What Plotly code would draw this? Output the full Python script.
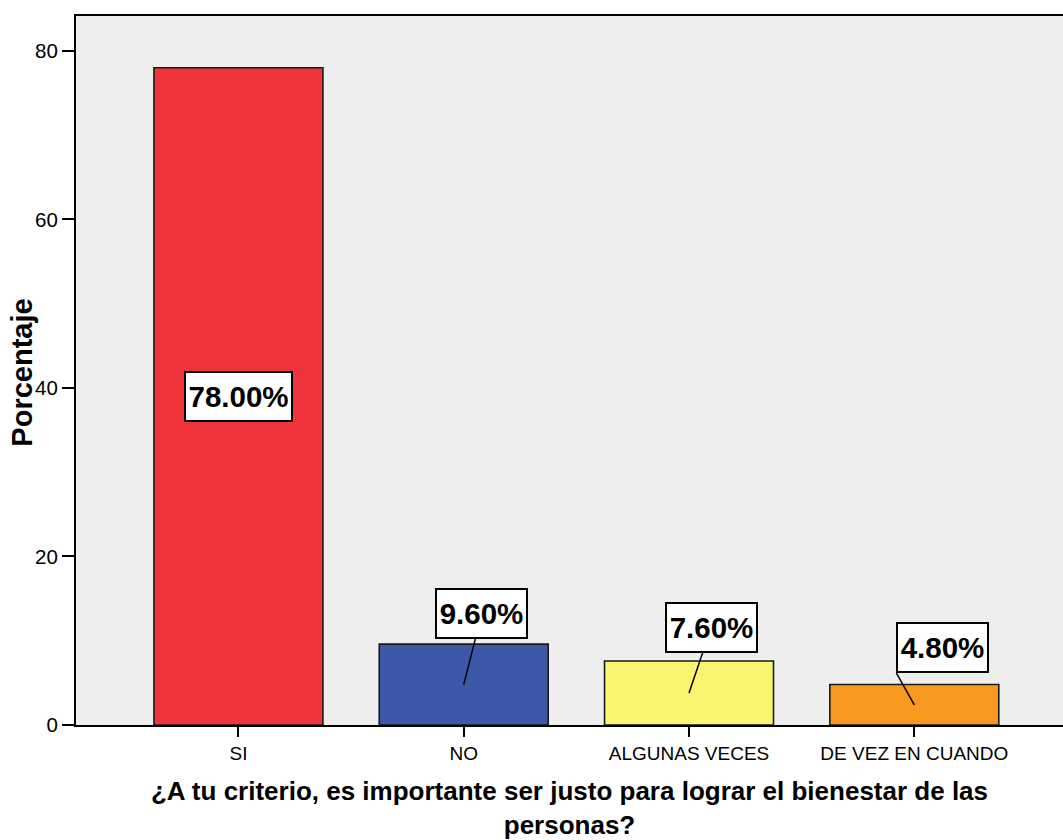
import plotly.graph_objects as go

# Survey answers and their share of respondents (%)
categories = ["SI", "NO", "ALGUNAS VECES", "DE VEZ EN CUANDO"]
percentages = [78.0, 9.6, 7.6, 4.8]
bar_colors = ["#F0343C", "#3D58A9", "#F9F571", "#F8991F"]
value_labels = ["78.00%", "9.60%", "7.60%", "4.80%"]

y_ticks = [0, 20, 40, 60, 80]
x_title = "¿A tu criterio, es importante ser justo para lograr el bienestar de las<br>personas?"
y_title = "Porcentaje"

# label box offsets (pixels from the bar's mid-height point); None = centred in bar
label_offsets = [None, (18, -71), (22, -65), (-18, -32)]
label_box_widths = [101, 85, 85, 85]

fig = go.Figure()
fig.add_trace(go.Bar(
    x=list(range(len(categories))),
    y=percentages,
    width=0.75,
    marker=dict(color=bar_colors, line=dict(color="#1a1a1a", width=1.6)),
    hoverinfo="skip",
))

label_font = dict(family="Liberation Sans Narrow, Arial Narrow, Liberation Sans, Arial",
                  size=29.5, color="black", weight="bold")
for i, (val, txt, off) in enumerate(zip(percentages, value_labels, label_offsets)):
    ann = dict(x=i, y=val / 2, xref="x", yref="y", text=txt, font=label_font,
               bgcolor="white", bordercolor="black", borderwidth=2, borderpad=2,
               width=label_box_widths[i], height=43, align="center", valign="middle")
    if off is None:
        ann.update(showarrow=False)
    else:
        ann.update(showarrow=True, arrowhead=0, arrowwidth=1.5, arrowcolor="black",
                   ax=off[0], ay=off[1], standoff=0)
        if i == 3:
            ann.update(xanchor="left", yanchor="bottom")
    fig.add_annotation(**ann)

# vertical axis title placed as a rotated annotation
fig.add_annotation(
    text=y_title, xref="paper", yref="paper", x=-0.0547, y=0.497,
    xanchor="center", yanchor="middle", textangle=-90, showarrow=False,
    font=dict(size=29, color="black", weight="bold"),
)

fig.update_layout(
    width=1063, height=840,
    margin=dict(l=76, r=0, t=16, b=115),
    paper_bgcolor="white",
    plot_bgcolor="#EEEEEE",
    showlegend=False,
    bargap=0.25,
    font=dict(family="Liberation Sans, Arial", color="black"),
)
fig.update_xaxes(
    range=[-0.721, 3.660],
    tickmode="array", tickvals=list(range(len(categories))), ticktext=categories,
    tickfont=dict(size=19, color="black"),
    ticks="outside", ticklen=10, tickwidth=2, tickcolor="black",
    showline=True, linewidth=2, linecolor="black", mirror=True,
    showgrid=False, zeroline=False, automargin=False,
    title=dict(text=x_title, font=dict(size=26, color="black", weight="bold"), standoff=26),
)
fig.update_yaxes(
    range=[0, 84.15],
    tickmode="array", tickvals=y_ticks,
    tickfont=dict(size=20.5, color="black"),
    ticks="outside", ticklen=12, tickwidth=2, tickcolor="black",
    showline=True, linewidth=2, linecolor="black",
    showgrid=False, zeroline=False, automargin=False,
)

fig.write_html("out.html")
